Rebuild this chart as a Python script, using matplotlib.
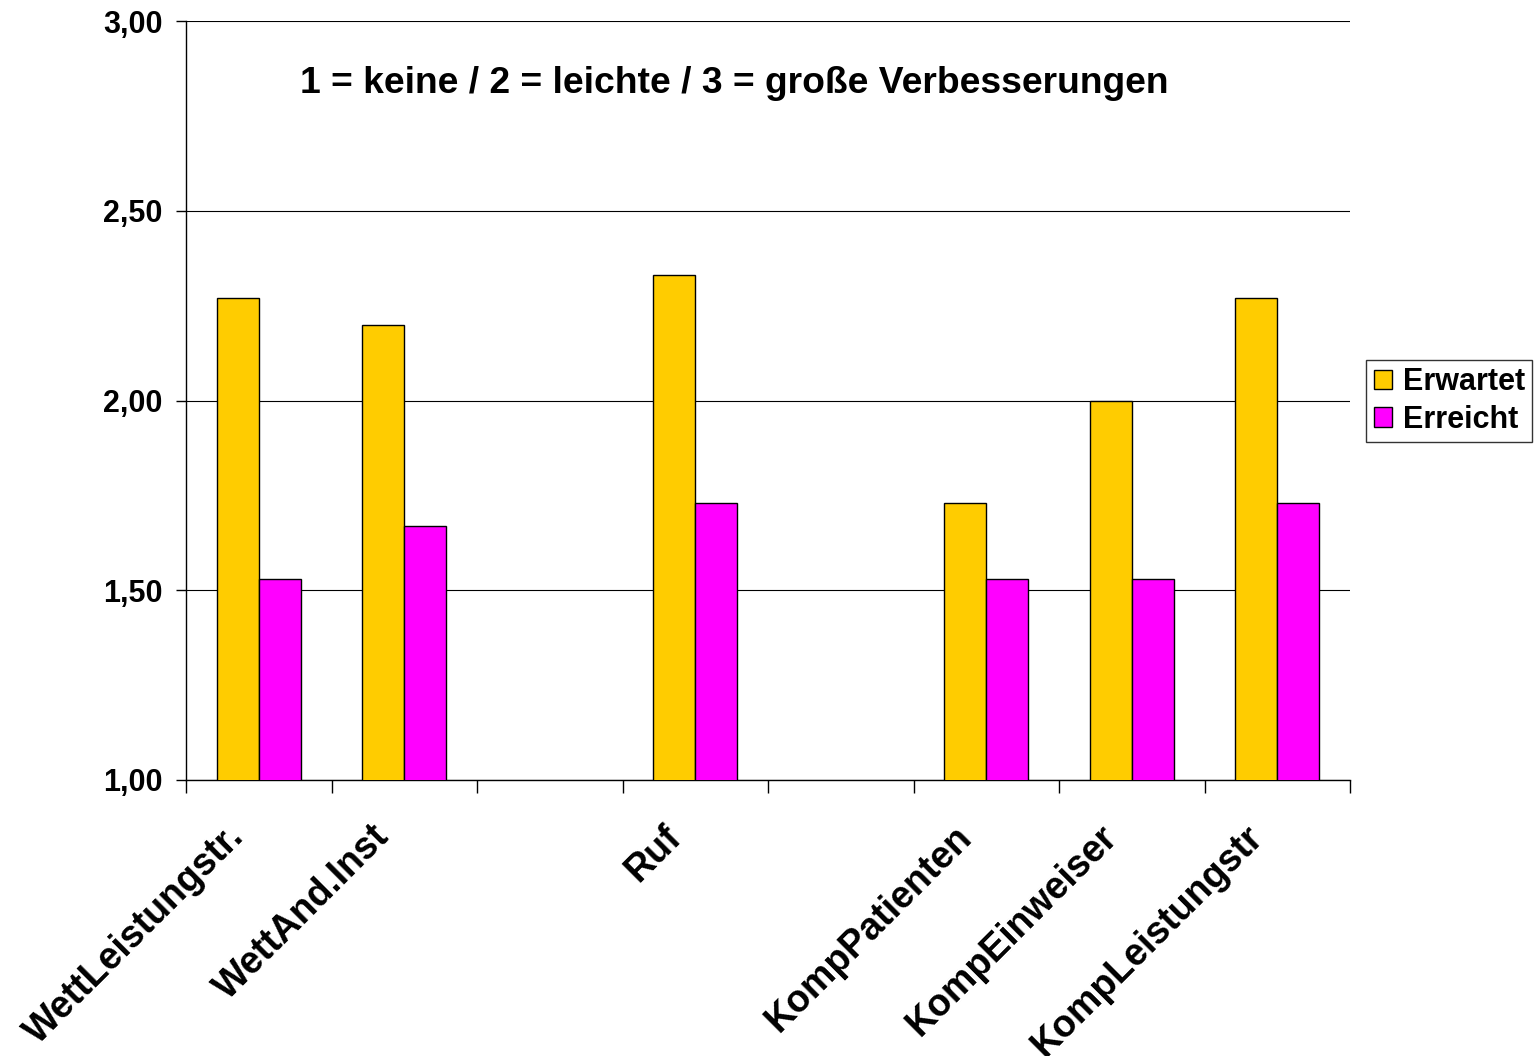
import numpy as np
import matplotlib
matplotlib.use("Agg")
import matplotlib.pyplot as plt
import matplotlib.transforms as mtransforms

plt.rcParams["font.family"] = ["Liberation Sans", "DejaVu Sans"]
plt.rcParams["font.weight"] = "bold"

categories = ["WettLeistungstr.", "WettAnd.Inst", "", "Ruf", "", "KompPatienten", "KompEinweiser", "KompLeistungstr"]
erwartet = [2.27, 2.20, np.nan, 2.33, np.nan, 1.73, 2.00, 2.27]
erreicht = [1.53, 1.67, np.nan, 1.73, np.nan, 1.53, 1.53, 1.73]
yticks = [1.0, 1.5, 2.0, 2.5, 3.0]

fig = plt.figure(figsize=(15.34, 10.56), dpi=100)
ax = fig.add_axes([186/1534, 1-780/1056, (1350-186)/1534, (780-21)/1056])

x = np.arange(len(categories))
w = 0.29
ax.bar(x - w/2, erwartet, w, bottom=0, color="#FFCC00", edgecolor="black", linewidth=1, label="Erwartet", zorder=3)
ax.bar(x + w/2, erreicht, w, bottom=0, color="#FF00FF", edgecolor="black", linewidth=1, label="Erreicht", zorder=3)

ax.set_ylim(1, 3)
ax.set_xlim(-0.5, len(categories) - 0.5)
ax.set_yticks(yticks)
ax.set_yticklabels([f"{v:.2f}".replace(".", ",") for v in yticks], fontsize=22, fontweight="bold")
ax.yaxis.grid(True, color="black", linewidth=0.8)
ax.set_axisbelow(True)

ax.set_xticks(np.arange(len(categories) + 1) - 0.5)
ax.set_xticklabels([])
ax.set_xticks(x, minor=True)
ax.set_xticklabels(categories, minor=True, fontsize=27, fontweight="bold",
                   rotation=45, ha="right", va="center", rotation_mode="anchor")
ax.tick_params(axis="x", which="major", length=9, width=1, direction="out")
ax.tick_params(axis="x", which="minor", length=0, pad=37)
ax.tick_params(axis="y", length=7, width=1, direction="out", pad=10)
offset = mtransforms.ScaledTranslation(-20/100, 0, fig.dpi_scale_trans)
for lbl in ax.get_xticklabels(minor=True):
    lbl.set_transform(lbl.get_transform() + offset)

for s in ["top", "right"]:
    ax.spines[s].set_visible(False)
ax.spines["left"].set_linewidth(1)
ax.spines["bottom"].set_linewidth(1)

ax.text(0.098, 0.918, "1 = keine / 2 = leichte / 3 = große Verbesserungen",
        transform=ax.transAxes, fontsize=26.8, fontweight="bold", ha="left", va="center")

leg = fig.legend(loc="center left", bbox_to_anchor=(1366/1534, 1-401/1056),
                 fontsize=22, frameon=True, fancybox=False, edgecolor="black",
                 handlelength=0.6, handleheight=0.6, handletextpad=0.35,
                 borderpad=0.25, labelspacing=0.25, borderaxespad=0)
leg.get_frame().set_linewidth(1)
for t in leg.get_texts():
    t.set_fontweight("bold")

fig.savefig("out.png", dpi=100)
